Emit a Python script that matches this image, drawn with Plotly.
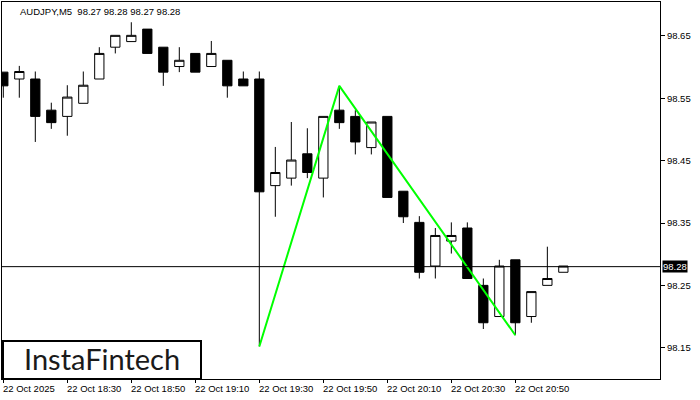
import pandas as pd
import plotly.graph_objects as go

# ---- data (AUDJPY M5, 22 Oct 2025) ----
start_time = "2025-10-22 18:10"
times = pd.date_range(start_time, periods=36, freq="5min")

opens  = [98.592, 98.581, 98.581, 98.531, 98.521, 98.542, 98.581, 98.632, 98.641, 98.661,
          98.632, 98.601, 98.622, 98.601, 98.611, 98.581, 98.581, 98.410, 98.422, 98.461,
          98.422, 98.531, 98.521, 98.471, 98.521, 98.401, 98.351, 98.281, 98.321, 98.342,
          98.250, 98.200, 98.291, 98.200, 98.250, 98.271]
highs  = [98.592, 98.602, 98.593, 98.543, 98.571, 98.593, 98.632, 98.651, 98.672, 98.661,
          98.632, 98.632, 98.622, 98.642, 98.611, 98.593, 98.593, 98.472, 98.512, 98.502,
          98.521, 98.570, 98.531, 98.512, 98.521, 98.401, 98.361, 98.342, 98.351, 98.351,
          98.261, 98.291, 98.291, 98.240, 98.312, 98.281]
lows   = [98.551, 98.551, 98.480, 98.501, 98.490, 98.542, 98.581, 98.622, 98.641, 98.622,
          98.570, 98.592, 98.592, 98.601, 98.551, 98.570, 98.152, 98.360, 98.410, 98.422,
          98.391, 98.501, 98.460, 98.460, 98.391, 98.350, 98.261, 98.261, 98.301, 98.261,
          98.180, 98.200, 98.170, 98.190, 98.250, 98.271]
closes = [98.570, 98.593, 98.521, 98.511, 98.552, 98.571, 98.622, 98.651, 98.651, 98.622,
          98.592, 98.611, 98.592, 98.622, 98.570, 98.570, 98.400, 98.431, 98.451, 98.431,
          98.521, 98.511, 98.480, 98.512, 98.391, 98.360, 98.271, 98.330, 98.330, 98.261,
          98.190, 98.281, 98.190, 98.240, 98.261, 98.281]

# pattern line (double-top style zigzag): bar index and price
pattern_idx = [16, 21, 32]
pattern_price = [98.152, 98.570, 98.170]

last_price = 98.28
title_text = "AUDJPY,M5  98.27 98.28 98.27 98.28"

price_ticks = [98.15, 98.25, 98.35, 98.45, 98.55, 98.65]
time_tick_idx = [0, 4, 8, 12, 16, 20, 24, 28, 32]
time_tick_labels = ["22 Oct 2025", "22 Oct 18:30", "22 Oct 18:50", "22 Oct 19:10",
                    "22 Oct 19:30", "22 Oct 19:50", "22 Oct 20:10", "22 Oct 20:30",
                    "22 Oct 20:50"]

FONT = "Liberation Sans, Arial, sans-serif"

fig = go.Figure()

fig.add_trace(go.Candlestick(
    x=times, open=opens, high=highs, low=lows, close=closes,
    increasing=dict(line=dict(color="black", width=1), fillcolor="white"),
    decreasing=dict(line=dict(color="black", width=1), fillcolor="black"),
    whiskerwidth=0, showlegend=False, hoverinfo="skip",
))

fig.add_trace(go.Scatter(
    x=[times[i] for i in pattern_idx], y=pattern_price, mode="lines",
    line=dict(color="#00ff00", width=2), showlegend=False, hoverinfo="skip",
))

# current price line
fig.add_shape(type="line", xref="paper", x0=0, x1=1, yref="y",
              y0=last_price, y1=last_price, line=dict(color="black", width=1))

step = pd.Timedelta(minutes=5)
x_left = times[0] - step * 0.081
x_right = times[0] + step * 41.04

annotations = []
for i, lab in zip(time_tick_idx, time_tick_labels):
    annotations.append(dict(
        x=times[i], xref="x", y=0, yref="paper", yanchor="top", xanchor="left",
        yshift=-3, xshift=-1, text=lab, showarrow=False, borderpad=0,
        font=dict(family=FONT, size=9.5, color="black")))

annotations.append(dict(
    x=17 / 658, xref="paper", y=1, yref="paper", xanchor="left", yanchor="top",
    yshift=-3, text=title_text, showarrow=False, borderpad=0,
    font=dict(family=FONT, size=9.5, color="black")))

annotations.append(dict(
    x=1, xref="paper", y=last_price, yref="y", xanchor="left", yanchor="middle",
    xshift=2, text=f"{last_price:.2f}", showarrow=False, bgcolor="black",
    borderpad=0, font=dict(family=FONT, size=9.5, color="white")))

# logo
fig.add_shape(type="rect", xref="paper", yref="paper", x0=1 / 658, x1=199 / 658,
              y0=0, y1=38 / 377, line=dict(color="black", width=2),
              fillcolor="white", layer="above")
annotations.append(dict(
    x=100 / 658, xref="paper", y=20.5 / 377, yref="paper", xanchor="center",
    yanchor="middle", text="InstaFintech", showarrow=False,
    font=dict(family="Lato, Inter, sans-serif", size=29, color="#1a1a1a")))

fig.update_layout(
    width=700, height=400, autosize=False,
    margin=dict(l=2, r=40, t=2, b=21, autoexpand=False),
    paper_bgcolor="white", plot_bgcolor="white",
    boxgap=0.42, boxgroupgap=0,
    annotations=annotations,
    xaxis=dict(
        range=[x_left, x_right], rangeslider=dict(visible=False),
        showgrid=False, zeroline=False, showline=True, mirror=True,
        linecolor="black", linewidth=1,
        tickmode="array", tickvals=[times[i] for i in time_tick_idx],
        ticks="outside", ticklen=3, tickcolor="black", showticklabels=False,
    ),
    yaxis=dict(
        range=[98.0998, 98.7045], side="right",
        showgrid=False, zeroline=False, showline=True, mirror=True,
        linecolor="black", linewidth=1,
        tickmode="array", tickvals=price_ticks,
        ticktext=[f"{v:.2f}" for v in price_ticks],
        ticks="outside", ticklen=4, tickcolor="black",
        tickfont=dict(family=FONT, size=9.5, color="black"),
    ),
    hovermode=False,
)

fig.write_html("out.html", config={"displayModeBar": False},
               post_script="document.body.style.margin='0';document.body.style.overflow='hidden';")
